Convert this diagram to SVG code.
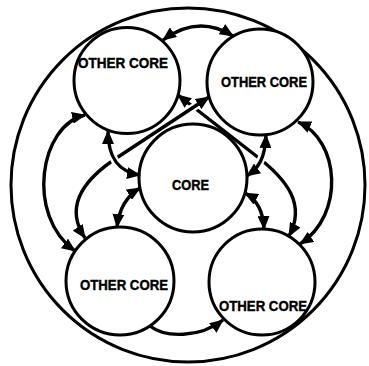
<svg xmlns="http://www.w3.org/2000/svg" width="369" height="366" viewBox="0 0 369 366">
  <style>
    .ring { fill: none; stroke: #000; stroke-width: 3; }
    .node { fill: #fff; stroke: #000; stroke-width: 3; }
    .lbl { font-family: "Liberation Sans", Arial, sans-serif; font-weight: bold; font-size: 14px; fill: #000; stroke: #000; stroke-width: 0.4; }
    .con { fill: none; stroke: #000; stroke-width: 3.4; }
    .both { marker-start: url(#ah); marker-end: url(#ah); }
    .one { marker-end: url(#ah); }
    .gap { fill: none; stroke: #fff; stroke-width: 8; }
  </style>
  <defs>
    <marker id="ah" viewBox="0 0 14 12" refX="13" refY="6" markerWidth="14" markerHeight="12" markerUnits="userSpaceOnUse" orient="auto-start-reverse">
      <path d="M0,0 L14,6 L0,12 z" fill="#000"/>
    </marker>
  </defs>
  <rect width="369" height="366" fill="#fff"/>
  <circle id="boundary" class="ring" cx="188" cy="185" r="177"/>

  <g id="node-top-left">
    <circle class="node" cx="127" cy="80.5" r="53"/>
    <text class="lbl" x="78" y="68" textLength="90" lengthAdjust="spacingAndGlyphs">OTHER CORE</text>
  </g>
  <g id="node-top-right">
    <circle class="node" cx="260" cy="82" r="53"/>
    <text class="lbl" x="221" y="87" textLength="86" lengthAdjust="spacingAndGlyphs">OTHER CORE</text>
  </g>
  <g id="node-core">
    <circle class="node" cx="193" cy="178" r="54"/>
    <text class="lbl" x="172" y="190" textLength="37" lengthAdjust="spacingAndGlyphs">CORE</text>
  </g>
  <g id="node-bottom-left">
    <circle class="node" cx="120" cy="281" r="54"/>
    <text class="lbl" x="80" y="290" textLength="88" lengthAdjust="spacingAndGlyphs">OTHER CORE</text>
  </g>
  <g id="node-bottom-right">
    <circle class="node" cx="262" cy="282" r="53"/>
    <text class="lbl" x="219" y="311" textLength="88" lengthAdjust="spacingAndGlyphs">OTHER CORE</text>
  </g>

  <g id="connectors">
    <!-- top-left <-> top-right -->
    <path class="con both" d="M163,40 Q198,14 233,36"/>
    <!-- top-left <-> bottom-left (outer left) -->
    <path class="con both" d="M85,115 C40,125 25,215 75,251"/>
    <!-- top-right <-> bottom-right (outer right) -->
    <path class="con both" d="M298,122 C340,140 345,215 300,244"/>
    <!-- top-left <-> bottom-right (diagonal B) -->
    <path class="con both" d="M178,95 L255,155 C288,180 306,205 289,236"/>
    <!-- crossing gap: A over B -->
    <path class="gap" d="M197.8,104.5 L189.4,110"/>
    <!-- top-right <-> bottom-left (diagonal A) -->
    <path class="con both" d="M209,97 L118,157 C78,183 66,210 85,238"/>
    <!-- crossing gap: arc over A -->
    <path class="gap" d="M111.7,154.4 L117.3,165"/>
    <!-- top-left <-> core -->
    <path class="con both" d="M108,131 C108,160 120,172 140,175"/>
    <!-- core <-> bottom-left -->
    <path class="con both" d="M140,188 Q120,200 117,227"/>
    <!-- crossing gap: arc over B -->
    <path class="gap" d="M263.5,154 L258.5,165"/>
    <!-- top-right <-> core -->
    <path class="con both" d="M266,135 C265,160 258,168 247,176"/>
    <!-- core <-> bottom-right -->
    <path class="con both" d="M245,193 Q263,203 264,229"/>
    <!-- bottom-left -> bottom-right -->
    <path class="con one" d="M150,326 C165,338 200,338 223,320"/>
  </g>
</svg>
